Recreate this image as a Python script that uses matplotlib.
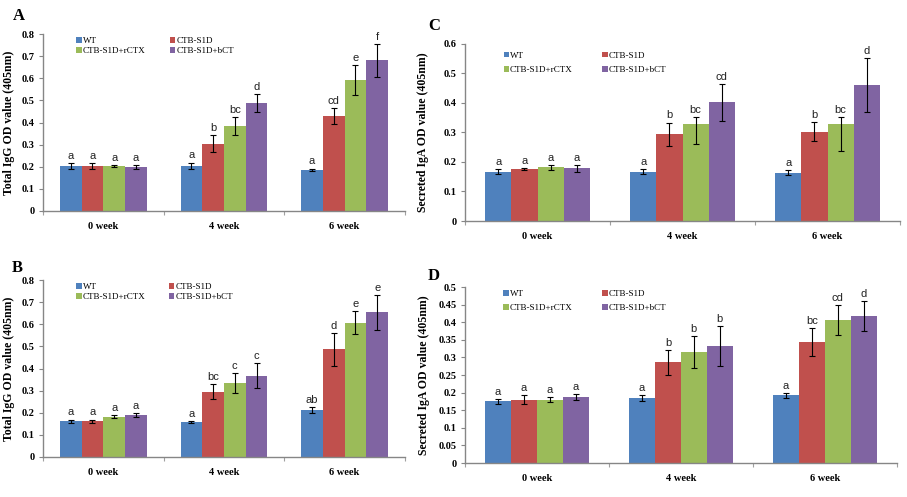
import numpy as np
import matplotlib
matplotlib.use("Agg")
import matplotlib.pyplot as plt

# ---- data (rows = groups, cols = weeks) ----
weeks = ["0 week", "4 week", "6 week"]
groups = ["WT", "CTB-S1D", "CTB-S1D+rCTX", "CTB-S1D+bCT"]
colors = ["#4F81BD", "#C0504D", "#9BBB59", "#8064A2"]

a_mean = [[0.204, 0.205, 0.186], [0.203, 0.305, 0.430], [0.203, 0.383, 0.592], [0.198, 0.489, 0.681]]
a_err = [[0.014, 0.014, 0.006], [0.012, 0.038, 0.035], [0.004, 0.040, 0.068], [0.010, 0.040, 0.075]]
a_sig = [["a", "a", "a"], ["a", "b", "cd"], ["a", "bc", "e"], ["a", "d", "f"]]

b_mean = [[0.161, 0.158, 0.214], [0.161, 0.295, 0.487], [0.183, 0.334, 0.607], [0.190, 0.367, 0.654]]
b_err = [[0.008, 0.003, 0.013], [0.008, 0.034, 0.075], [0.008, 0.044, 0.052], [0.010, 0.056, 0.078]]
b_sig = [["a", "a", "ab"], ["a", "bc", "d"], ["a", "c", "e"], ["a", "c", "e"]]

c_mean = [[0.167, 0.167, 0.164], [0.175, 0.294, 0.302], [0.182, 0.327, 0.327], [0.178, 0.401, 0.461]]
c_err_lo = [[0.009, 0.008, 0.007], [0.003, 0.039, 0.033], [0.008, 0.065, 0.089], [0.012, 0.062, 0.092]]
c_err_hi = [[0.009, 0.008, 0.007], [0.003, 0.039, 0.033], [0.008, 0.025, 0.025], [0.012, 0.062, 0.090]]
c_sig = [["a", "a", "a"], ["a", "b", "b"], ["a", "bc", "bc"], ["a", "cd", "d"]]

d_mean = [[0.175, 0.184, 0.192], [0.180, 0.286, 0.343], [0.180, 0.316, 0.407], [0.187, 0.333, 0.417]]
d_err = [[0.008, 0.009, 0.006], [0.012, 0.035, 0.040], [0.008, 0.046, 0.042], [0.009, 0.057, 0.043]]
d_sig = [["a", "a", "a"], ["a", "b", "bc"], ["a", "b", "cd"], ["a", "b", "d"]]

SERIF = "Liberation Serif"
SANS = "Liberation Sans"
W = 0.18

fig = plt.figure(figsize=(9.07, 4.97), dpi=100)


def panel(rect, mean, lo, hi, sig, ymax, ystep, ylabel, letter, letter_xy, fmt,
          lab_x, leg_y, leg_sp, col_sp):
    ax = fig.add_axes(rect)
    x = np.arange(len(weeks))
    for i, g in enumerate(groups):
        xs = x + (i - 1.5) * W
        ax.bar(xs, mean[i], W, color=colors[i], label=g, zorder=2)
        ax.errorbar(xs, mean[i], yerr=[lo[i], hi[i]], fmt="none", ecolor="black",
                    elinewidth=0.8, capsize=2, capthick=0.8, zorder=3)
        for xx, m, e, s in zip(xs, mean[i], hi[i], sig[i]):
            ax.text(xx, m + e + ymax * 0.012, s, ha="center", va="bottom",
                    fontsize=8, family=SANS, color="#222222")
    ax.set_xlim(-0.5, len(weeks) - 0.5)
    ax.set_ylim(0, ymax)
    ticks = np.arange(0, ymax + 1e-9, ystep)
    ax.set_yticks(ticks)
    ax.set_yticklabels([fmt(t) for t in ticks], family=SERIF, fontweight="bold", fontsize=7.5)
    ax.set_xticks(np.arange(len(weeks) + 1) - 0.5)
    ax.set_xticklabels([])
    ax.set_xticks(x, minor=True)
    ax.set_xticklabels(weeks, minor=True, family=SERIF, fontweight="bold", fontsize=7.5)
    ax.tick_params(axis="x", which="minor", length=0, pad=8)
    ax.tick_params(axis="x", which="major", length=3, color="#a0a0a0")
    ax.tick_params(axis="y", length=3, color="#868686", pad=3)
    for sp in ["top", "right"]:
        ax.spines[sp].set_visible(False)
    for sp in ["left", "bottom"]:
        ax.spines[sp].set_color("#868686")
        ax.spines[sp].set_linewidth(1.0)
    ax.set_ylabel(ylabel, family=SERIF, fontweight="bold", fontsize=8.5)
    ax.yaxis.set_label_coords(lab_x, 0.5)
    h, l = ax.get_legend_handles_labels()
    order = [0, 2, 1, 3]  # row-wise: WT, CTB-S1D / rCTX, bCT
    ax.legend([h[k] for k in order], [l[k] for k in order], ncol=2, loc="upper left",
              bbox_to_anchor=(0.07, leg_y), frameon=False,
              prop={"family": SERIF, "size": 6.5}, handlelength=0.6, handleheight=0.6,
              handletextpad=0.1, labelspacing=leg_sp, columnspacing=col_sp)
    fig.text(letter_xy[0], letter_xy[1], letter, family=SERIF, fontweight="bold", fontsize=12,
             ha="left", va="center")
    return ax


def f1(t):
    return "0" if abs(t) < 1e-9 else f"{t:.1f}"


def f2(t):
    if abs(t) < 1e-9:
        return "0"
    return f"{t:.2f}".rstrip("0")


panel([0.0474, 0.5755, 0.399, 0.356], a_mean, a_err, a_err, a_sig, 0.8, 0.1,
      "Total IgG OD value (405nm)", "A", (0.014, 0.968), f1, -0.078, 1.03, 0.25, 2.7)
panel([0.0474, 0.0805, 0.399, 0.356], b_mean, b_err, b_err, b_sig, 0.8, 0.1,
      "Total IgG OD value (405nm)", "B", (0.013, 0.46), f1, -0.078, 1.03, 0.25, 2.6)
panel([0.5127, 0.5553, 0.4796, 0.357], c_mean, c_err_lo, c_err_hi, c_sig, 0.6, 0.1,
      "Secreted IgA OD value (405nm)", "C", (0.472, 0.948), f1, -0.082, 1.0, 0.7, 3.3)
panel([0.5127, 0.0684, 0.476, 0.354], d_mean, d_err, d_err, d_sig, 0.5, 0.05,
      "Secreted IgA OD value (405nm)", "D", (0.472, 0.445), f2, -0.082, 1.03, 0.7, 3.3)

fig.savefig("out.png", dpi=100)
